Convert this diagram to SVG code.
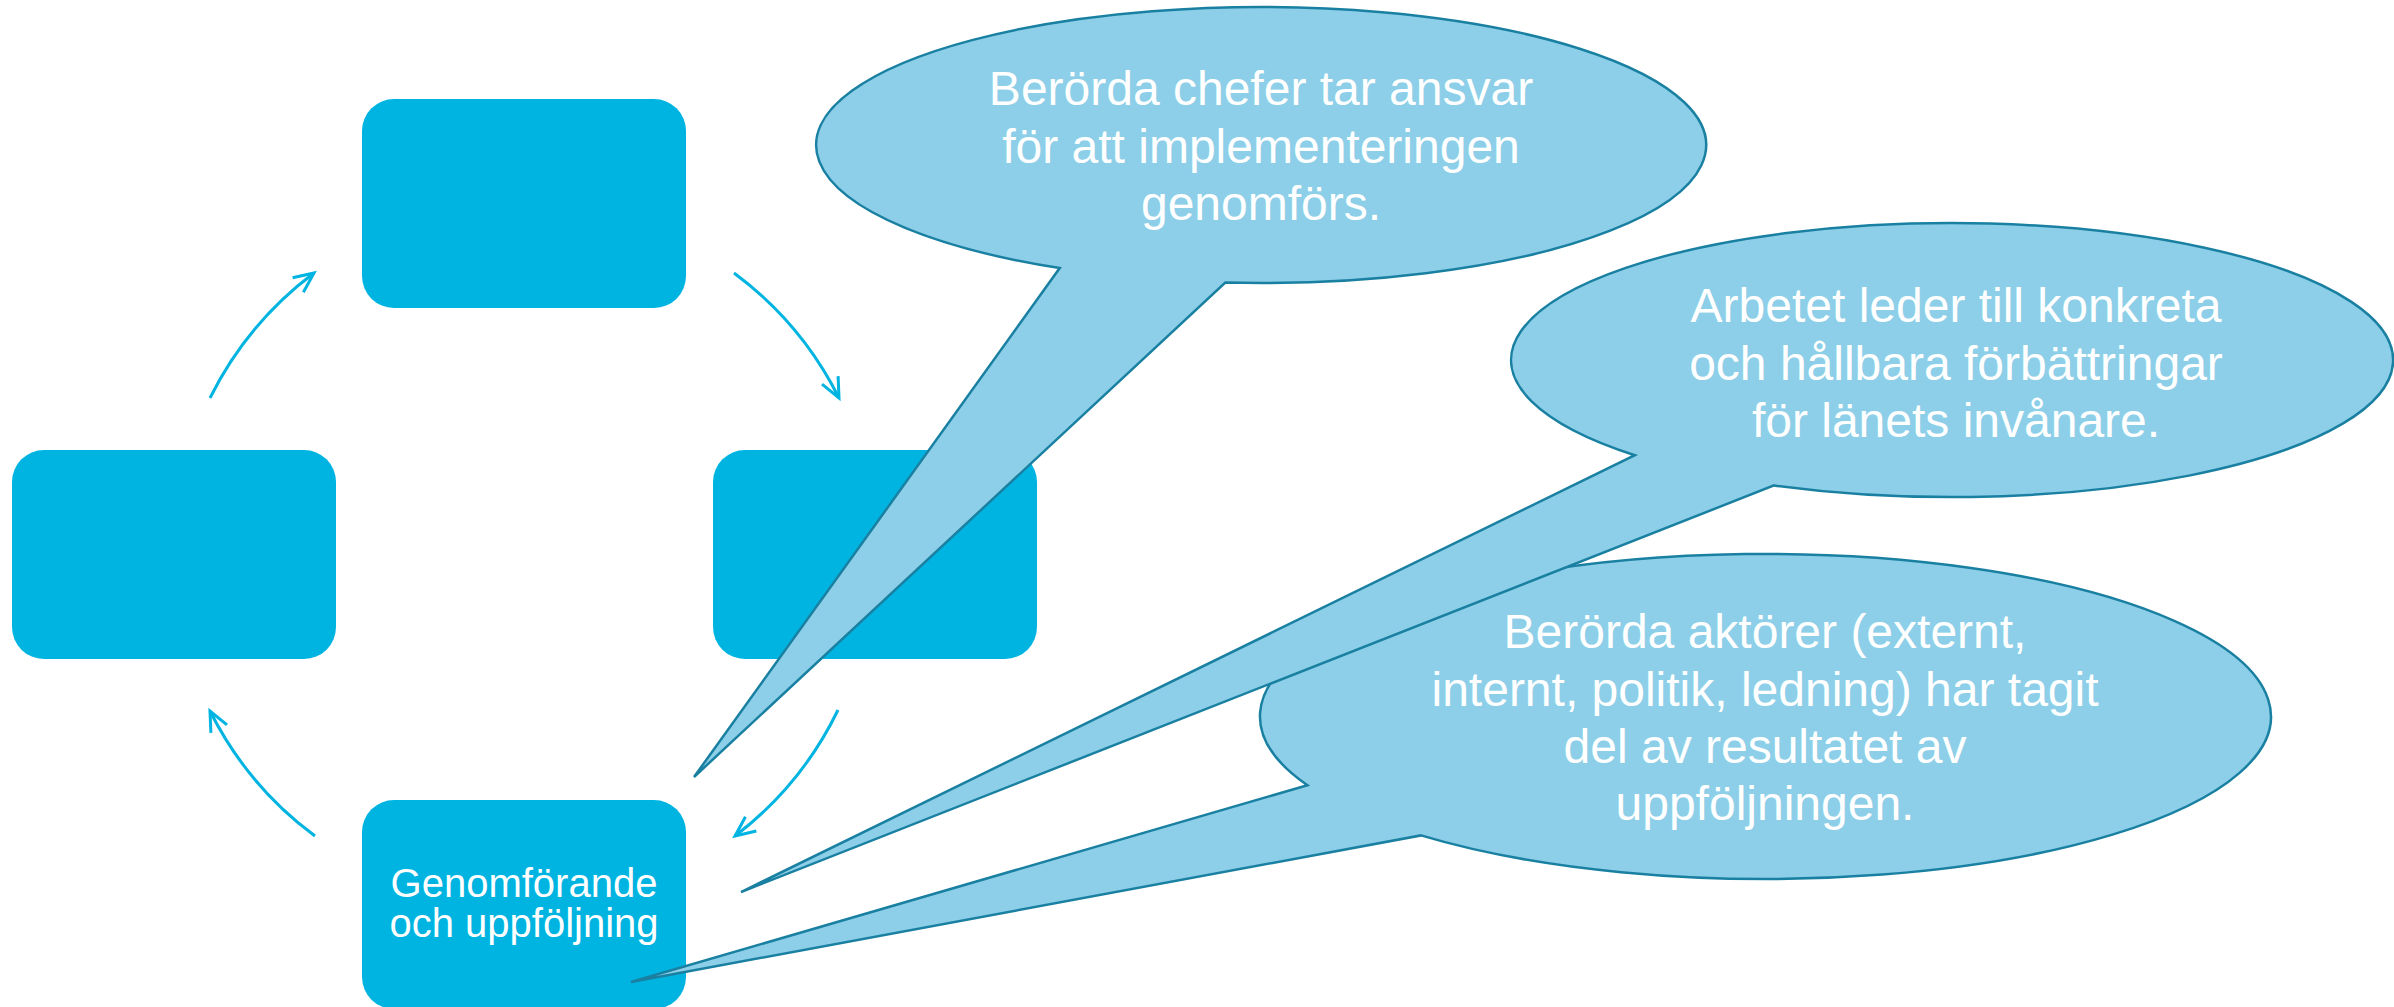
<svg xmlns="http://www.w3.org/2000/svg" width="2394" height="1007" viewBox="0 0 2394 1007">
<style>
.box{fill:#00B4E2;}
.arr{fill:none;stroke:#00B4E2;stroke-width:3;}
.bub{fill:#8DCFE8;stroke:#1A80A2;stroke-width:2.5;stroke-linejoin:miter;}
.t{font-family:"Liberation Sans",Arial,sans-serif;fill:#FFFFFF;text-anchor:middle;}
.bt{font-size:48px;}
.nt{font-size:40px;}
</style>
<defs>
<marker id="ah" markerUnits="userSpaceOnUse" markerWidth="40" markerHeight="40" orient="auto" overflow="visible">
<path d="M -20 -9 L 0 0 L -20 9" fill="none" stroke="#00B4E2" stroke-width="3"/>
</marker>
</defs>
<rect width="2394" height="1007" fill="#FFFFFF"/>
<g id="node-top"><rect class="box" x="362" y="99" width="324" height="209" rx="32" ry="32"/></g>
<g id="node-left"><rect class="box" x="12" y="450" width="324" height="209" rx="32" ry="32"/></g>
<g id="node-right"><rect class="box" x="713" y="450" width="324" height="209" rx="32" ry="32"/></g>
<g id="node-bottom"><rect class="box" x="362" y="800" width="324" height="209" rx="32" ry="32"/>
<text class="t nt" x="524" y="897">Genomförande</text>
<text class="t nt" x="524" y="937">och uppföljning</text></g>
<g id="connectors">
<path class="arr" d="M 210 398 A 351 351 0 0 1 314 273" marker-end="url(#ah)"/>
<path class="arr" d="M 734 273 A 351 351 0 0 1 839 398" marker-end="url(#ah)"/>
<path class="arr" d="M 838 710 A 351 351 0 0 1 735 836" marker-end="url(#ah)"/>
<path class="arr" d="M 315 836 A 351 351 0 0 1 210 711" marker-end="url(#ah)"/>
</g>
<g id="bubble-1">
<path class="bub" d="M 1059.7 268.1 A 445 138 0 1 1 1225.3 282.6 L 694 777 Z"/>
<text class="t bt" x="1261" y="105">Berörda chefer tar ansvar</text>
<text class="t bt" x="1261" y="162.5">för att implementeringen</text>
<text class="t bt" x="1261" y="220">genomförs.</text>
</g>
<g id="bubble-3">
<path class="bub" d="M 1307.4 785.2 A 505.5 162.5 0 1 1 1421 835.4 L 631 982 Z"/>
<text class="t bt" x="1765" y="648">Berörda aktörer (externt,</text>
<text class="t bt" x="1765" y="705.6">internt, politik, ledning) har tagit</text>
<text class="t bt" x="1765" y="763">del av resultatet av</text>
<text class="t bt" x="1765" y="820">uppföljningen.</text>
</g>
<g id="bubble-2">
<path class="bub" d="M 1634.8 455.2 A 441 137 0 1 1 1774.1 485.4 L 741 892 Z"/>
<text class="t bt" x="1956" y="322">Arbetet leder till konkreta</text>
<text class="t bt" x="1956" y="379.6">och hållbara förbättringar</text>
<text class="t bt" x="1956" y="437">för länets invånare.</text>
</g>
</svg>
